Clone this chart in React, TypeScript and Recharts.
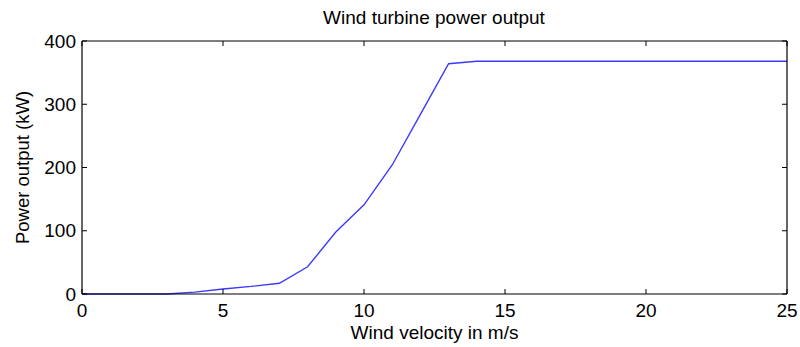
import React from 'react';
import { LineChart, Line, XAxis, YAxis } from 'recharts';

const windSpeed = [0, 1, 2, 3, 4, 5, 6, 7, 8, 9, 10, 11, 12, 13, 14, 15, 16, 17, 18, 19, 20, 21, 22, 23, 24, 25];
const powerKW = [0, 0, 0, 0, 3, 8, 12, 17, 43, 98, 141, 204, 284, 364, 368, 368, 368, 368, 368, 368, 368, 368, 368, 368, 368, 368];
const xTicks = [0, 5, 10, 15, 20, 25];
const yTicks = [0, 100, 200, 300, 400];

const data = windSpeed.map((v, i) => ({ v, p: powerKW[i] }));

const FONT = '"Liberation Sans", Arial, Helvetica, sans-serif';
const FS = 19;
const TL = 5;

const BottomTick = (props: any) => {
  const { x, y, payload } = props;
  const m = 10;
  return (
    <g>
      <line x1={x} x2={x} y1={y - m} y2={y - m - TL} stroke="#000" strokeWidth={1} />
      <text x={x} y={y} dy="0.71em" textAnchor="middle" fill="#000" fontSize={FS} fontFamily={FONT}>
        {payload.value}
      </text>
    </g>
  );
};

const LeftTick = (props: any) => {
  const { x, y, payload } = props;
  const m = 6;
  return (
    <g>
      <line x1={x + m} x2={x + m + TL} y1={y} y2={y} stroke="#000" strokeWidth={1} />
      <text x={x} y={y} dy="0.355em" textAnchor="end" fill="#000" fontSize={FS} fontFamily={FONT}>
        {payload.value}
      </text>
    </g>
  );
};

const TopTick = (props: any) => {
  const { x, y } = props;
  return <line x1={x} x2={x} y1={y} y2={y + TL} stroke="#000" strokeWidth={1} />;
};

const RightTick = (props: any) => {
  const { x, y } = props;
  return <line x1={x} x2={x - TL} y1={y} y2={y} stroke="#000" strokeWidth={1} />;
};

export default function App() {
  return (
    <div style={{ position: 'absolute', left: 0, top: 0, width: 800, height: 347, background: '#fff', fontFamily: FONT }}>
      <div style={{ position: 'absolute', left: 234, width: 400, top: 7, textAlign: 'center', fontSize: FS, color: '#000', lineHeight: '22px' }}>
        Wind turbine power output
      </div>
      <LineChart width={800} height={347} data={data} margin={{ top: 40, right: 12, bottom: 0, left: 0 }}>
        <XAxis
          dataKey="v"
          type="number"
          domain={[0, 25]}
          ticks={xTicks}
          height={53}
          tickSize={0}
          tickMargin={10}
          tickLine={false}
          axisLine={{ stroke: '#000', strokeWidth: 1.2 }}
          tick={<BottomTick />}
          label={{ value: 'Wind velocity in m/s', position: 'insideBottom', offset: 8, fill: '#000', fontSize: FS, fontFamily: FONT }}
        />
        <XAxis
          xAxisId="top"
          orientation="top"
          dataKey="v"
          type="number"
          domain={[0, 25]}
          ticks={xTicks}
          height={1}
          tickSize={0}
          tickMargin={0}
          tickLine={false}
          axisLine={{ stroke: '#000', strokeWidth: 1.2 }}
          tick={<TopTick />}
        />
        <YAxis
          type="number"
          domain={[0, 400]}
          ticks={yTicks}
          width={82}
          tickSize={0}
          tickMargin={6}
          tickLine={false}
          axisLine={{ stroke: '#000', strokeWidth: 1.2 }}
          tick={<LeftTick />}
          label={{ value: 'Power output (kW)', position: 'insideLeft', angle: -90, offset: 22, fill: '#000', fontSize: 18.5, fontFamily: FONT, style: { textAnchor: 'middle' } }}
        />
        <YAxis
          yAxisId="right"
          orientation="right"
          type="number"
          domain={[0, 400]}
          ticks={yTicks}
          width={1}
          tickSize={0}
          tickMargin={0}
          tickLine={false}
          axisLine={{ stroke: '#000', strokeWidth: 1.2 }}
          tick={<RightTick />}
        />
        <Line
          xAxisId="top"
          yAxisId="right"
          dataKey="p"
          type="linear"
          stroke="none"
          dot={false}
          isAnimationActive={false}
        />
        <Line
          dataKey="p"
          type="linear"
          stroke="#3a3aff"
          strokeWidth={1.4}
          dot={false}
          isAnimationActive={false}
        />
      </LineChart>
    </div>
  );
}
